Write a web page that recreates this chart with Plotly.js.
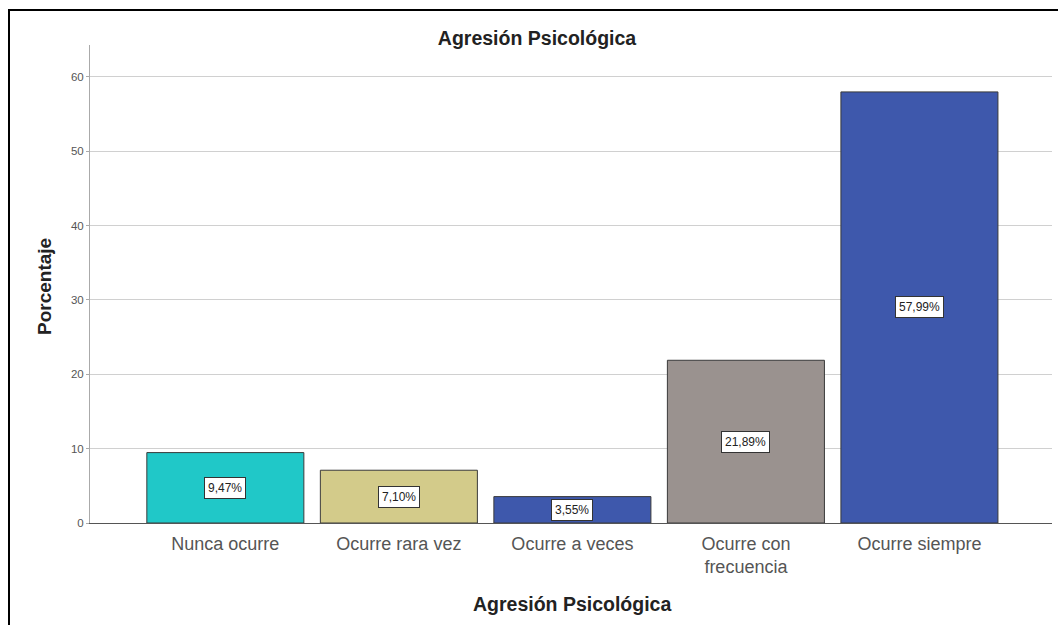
<!DOCTYPE html>
<html>
<head>
<meta charset="utf-8">
<script src="https://cdn.plot.ly/plotly-3.0.1.min.js"></script>
<style>html,body{margin:0;padding:0;background:#fff;}#chart{width:1058px;height:625px;}</style>
</head>
<body>
<div id="chart"></div>
<script>
const categories = ["Nunca ocurre", "Ocurre rara vez", "Ocurre a veces", "Ocurre con<br>frecuencia", "Ocurre siempre"];
const percentages = [9.47, 7.10, 3.55, 21.89, 57.99];
const valueLabels = ["9,47%", "7,10%", "3,55%", "21,89%", "57,99%"];
const barColors = ["#20C8C8", "#D3CB8A", "#3E58AC", "#9A928F", "#3E58AC"];
const yTicks = [0, 10, 20, 30, 40, 50, 60];
const chartTitle = "Agresión Psicológica";
const xTitle = "Agresión Psicológica";
const yTitle = "Porcentaje";

const FONT = "Liberation Sans, Arial, sans-serif";

const trace = {
  type: "bar",
  x: categories,
  y: percentages,
  marker: { color: barColors, line: { color: "#3a3a3a", width: 1 } },
  hoverinfo: "none"
};

const annotations = categories.map((c, i) => ({
  x: c, y: percentages[i] / 2, xref: "x", yref: "y",
  text: valueLabels[i], showarrow: false,
  font: { family: FONT, size: 12, color: "#222" },
  bgcolor: "#ffffff", bordercolor: "#333333", borderwidth: 1, borderpad: 3
}));

annotations.push({
  text: "<b>" + xTitle + "</b>", showarrow: false,
  xref: "paper", yref: "paper", x: (572 - 90) / 962, y: (523 - 604) / 478,
  xanchor: "center", yanchor: "middle",
  font: { family: FONT, size: 19.5, color: "#222" }
});
annotations.push({
  text: "<b>" + yTitle + "</b>", showarrow: false, textangle: -90,
  xref: "paper", yref: "paper", x: (44 - 90) / 962, y: (523 - 287) / 478,
  xanchor: "center", yanchor: "middle",
  font: { family: FONT, size: 19, color: "#222" }
});

const layout = {
  width: 1058, height: 625,
  margin: { l: 90, r: 6, t: 45, b: 102 },
  paper_bgcolor: "#ffffff", plot_bgcolor: "#ffffff",
  showlegend: false,
  bargap: 0.095,
  title: {
    text: "<b>" + chartTitle + "</b>",
    font: { family: FONT, size: 19.5, color: "#222" },
    xref: "container", x: 537 / 1058, xanchor: "center",
    yref: "container", y: 1 - 38 / 625, yanchor: "middle"
  },
  xaxis: {
    type: "category",
    range: [-0.78, 4.764],
    showgrid: false,
    showline: true, linecolor: "#555", linewidth: 1,
    ticks: "", ticklabelstandoff: 4,
    tickfont: { family: FONT, size: 18, color: "#555" }
  },
  yaxis: {
    range: [0, 64.3],
    tickvals: yTicks,
    showgrid: true, gridcolor: "#d0d0d0", gridwidth: 1,
    zeroline: false,
    showline: true, linecolor: "#aaa", linewidth: 1,
    ticks: "outside", ticklen: 3, tickcolor: "#aaa",
    tickfont: { family: FONT, size: 11.5, color: "#555" }
  },
  annotations: annotations,
  shapes: [
    { type: "rect", xref: "paper", yref: "paper",
      x0: (9 - 90) / 962, x1: (1070 - 90) / 962,
      y0: (523 - 640) / 478, y1: (523 - 10) / 478,
      line: { color: "#000", width: 2 }, fillcolor: "rgba(0,0,0,0)", layer: "below" }
  ]
};

Plotly.newPlot("chart", [trace], layout, { displayModeBar: false, staticPlot: true });
</script>
</body>
</html>
